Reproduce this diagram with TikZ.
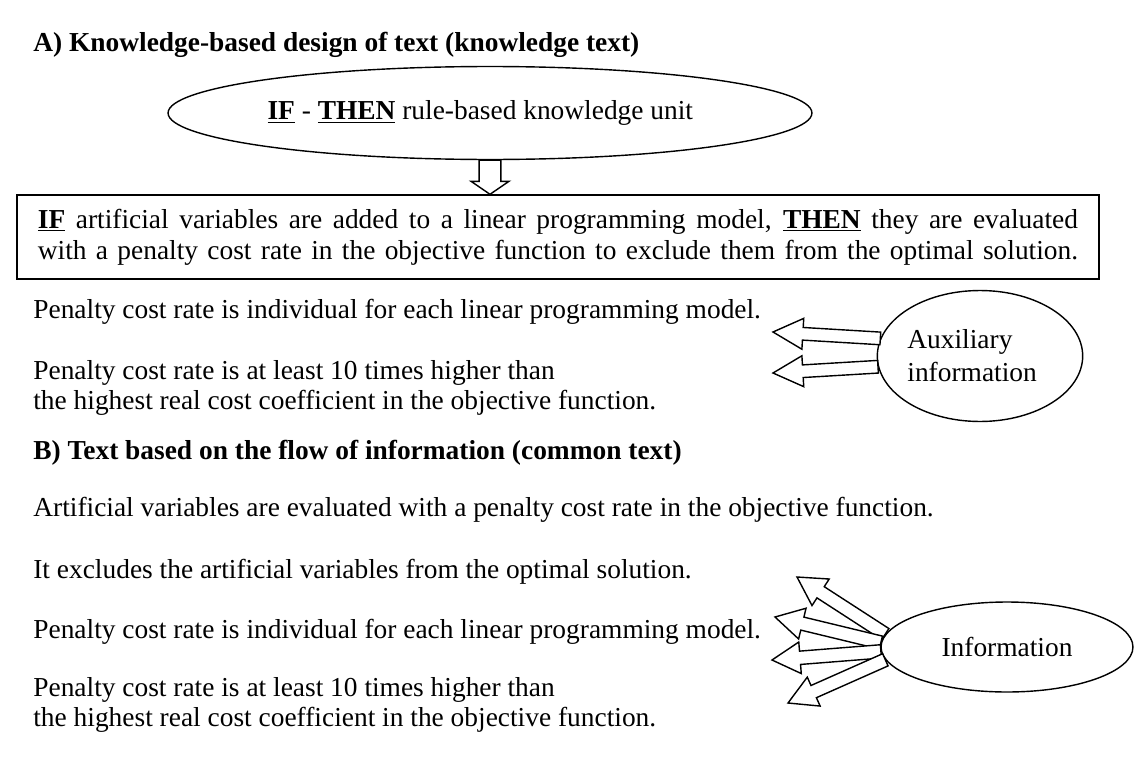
\documentclass[tikz,border=0pt]{standalone}
\usepackage{fontspec}
\setmainfont{Liberation Serif}
\usetikzlibrary{shapes.geometric,calc}
\tikzset{
  txt/.style={anchor=west,inner sep=0pt,font=\fontsize{15.6pt}{17pt}\selectfont,align=left},
  ttl/.style={txt,font=\fontsize{15.6pt}{17pt}\selectfont\bfseries},
  ell/.style={draw,ellipse,inner sep=0pt,line width=0.8pt,fill=white,font=\fontsize{15.6pt}{17pt}\selectfont},
  harrow/.style={draw,fill=white,line width=0.8pt,line join=miter}
}
% hollow arrow: #1 tail, #2 tip, #3 shaft half width, #4 head half width, #5 head length
\newcommand\hollowarrow[5]{%
  \draw[harrow] let \p1=(#1), \p2=(#2), \n1={atan2(\y1-\y2,\x1-\x2)}, \n2={veclen(\x1-\x2,\y1-\y2)} in
    (\p2) -- ([shift={(\p2)},rotate=\n1]#5,#4) -- ([shift={(\p2)},rotate=\n1]#5,#3)
    -- ([shift={(\p2)},rotate=\n1]\n2,#3) -- ([shift={(\p2)},rotate=\n1]\n2,-#3)
    -- ([shift={(\p2)},rotate=\n1]#5,-#3) -- ([shift={(\p2)},rotate=\n1]#5,-#4) -- cycle;}
\newcommand\ifthen[1]{\underline{\textbf{#1}}}
\begin{document}
\begin{tikzpicture}[x=0.02cm,y=-0.02cm]
\useasboundingbox (0,0) rectangle (1139,764);
% Part A
\node[ttl] (tA) at (33,45) {A) Knowledge-based design of text (knowledge text)};
\node[ell,minimum width=12.88cm,minimum height=1.86cm] (kunit) at (490,113)
  {\ifthen{IF} - \ifthen{THEN} rule-based knowledge unit\hspace*{11pt}};
\node[draw,line width=0.8pt,minimum width=21.64cm,minimum height=1.68cm,inner sep=0pt,
  font=\fontsize{15.6pt}{17.5pt}\selectfont,align=left] (rule) at (558,237)
  {\makebox[592pt][s]{\ifthen{IF} artificial variables are added to a linear programming model, \ifthen{THEN} they are evaluated}\\
   \makebox[592pt][s]{with a penalty cost rate in the objective function to exclude them from the optimal solution.}};
\coordinate (downtip) at (kunit.south |- rule.north);
\hollowarrow{kunit.south}{downtip}{6.2pt}{10.8pt}{7.4pt}

\node[txt] (a1) at (33,312) {Penalty cost rate is individual for each linear programming model.};
\node[txt] (a2) at (33,388) {Penalty cost rate is at least 10 times higher than\\the highest real cost coefficient in the objective function.};
\node[ell,minimum width=4.08cm,minimum height=2.62cm,align=left,
  font=\fontsize{15.6pt}{18.7pt}\selectfont] (aux) at (980,356) {Auxiliary\\information\hspace*{9pt}};
\coordinate (auxtip1) at (773,332);
\coordinate (auxtip2) at (773,373);
\hollowarrow{aux.170}{auxtip1}{3.6pt}{8.8pt}{17pt}
\hollowarrow{aux.186}{auxtip2}{3.6pt}{8.8pt}{17pt}

% Part B
\node[ttl] (tB) at (33,453) {B) Text based on the flow of information (common text)};
\node[txt] (b1) at (33,510) {Artificial variables are evaluated with a penalty cost rate in the objective function.};
\node[txt] (b2) at (33,572) {It excludes the artificial variables from the optimal solution.};
\node[txt] (b3) at (33,632) {Penalty cost rate is individual for each linear programming model.};
\node[txt] (b4) at (33,705) {Penalty cost rate is at least 10 times higher than\\the highest real cost coefficient in the objective function.};
\node[ell,minimum width=5.04cm,minimum height=1.8cm] (info) at (1007,647) {Information};
\coordinate (itip1) at (797,577);
\coordinate (itip2) at (775,617);
\coordinate (itip3) at (772,660);
\coordinate (itip4) at (788,703);
\hollowarrow{info.174}{itip1}{3.8pt}{9pt}{16pt}
\hollowarrow{info.178}{itip2}{3.8pt}{9pt}{16pt}
\hollowarrow{info.182}{itip3}{3.8pt}{9pt}{16pt}
\hollowarrow{info.186}{itip4}{3.8pt}{9pt}{16pt}
\end{tikzpicture}
\end{document}
